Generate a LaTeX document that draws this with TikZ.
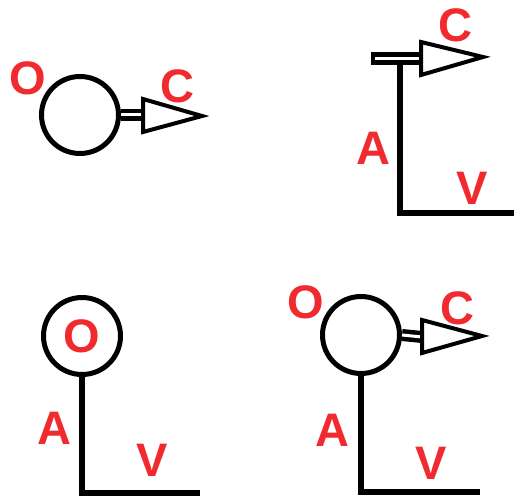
\documentclass[tikz,border=0pt]{standalone}
\usepackage{fontspec}
\setmainfont{Liberation Sans}
\usepackage{xcolor}
\usepackage{tikz}
\usetikzlibrary{positioning}
\definecolor{labelred}{HTML}{F02A2E}

\begin{document}
\begin{tikzpicture}[
        x=1pt, y=-1pt,
        ring/.style={circle, draw, line width=5, minimum size=77, inner sep=0},
        shaft/.style={draw, line width=4.5, double=white, double distance=3},
        pointer/.style={draw, line width=4, fill=white, line join=miter},
        stem/.style={draw, line width=5.5, line join=miter},
        lbl/.style={text=labelred, font=\fontsize{47}{47}\selectfont\bfseries, inner sep=0}
    ]
        \useasboundingbox (0,0) rectangle (514,500);

        % Nodes
        \node (ring1) [ring] at (80,115) {};
        \node (o1) [lbl] at (28,78) {O};
        \node (c1) [lbl] at (177,86) {C};
        \coordinate (base1) at (143,115);

        \coordinate (tail2) at (373,58.5);
        \coordinate (base2) at (421,58.5);
        \coordinate (top2) at (400,64);
        \coordinate (end2) at (516,213);
        \node (c2) [lbl] at (455,25) {C};
        \node (a2) [lbl] at (373,148) {A};
        \node (v2) [lbl] at (472,188) {V};

        \node (ring3) [ring] at (82,336) {};
        \node (o3) [lbl] at (ring3) {O};
        \coordinate (end3) at (200,493);
        \node (a3) [lbl] at (54,428) {A};
        \node (v3) [lbl] at (152,460) {V};

        \node (ring4) [ring] at (361,335) {};
        \node (o4) [lbl] at (306,302) {O};
        \node (c4) [lbl] at (457,308) {C};
        \coordinate (base4) at (422,337);
        \coordinate (end4) at (480,492);
        \node (a4) [lbl] at (332,430) {A};
        \node (v4) [lbl] at (431,463) {V};

        % Shafts and pointers
        \draw [shaft] (ring1.east) -- (base1);
        \draw [pointer] (base1) -- ++(0,-16) -- ++(59,17) -- ++(-59,16) -- cycle;

        \draw [shaft, line width=5, double distance=2.5] (tail2) -- (base2);
        \draw [line width=3.5] (tail2) ++(0,-6.25) -- ++(0,12.5);
        \draw [pointer] (base2) -- ++(0,-16.5) -- ++(62,15) -- ++(-62,18) -- cycle;

        \draw [shaft] (ring4.east) -- (base4);
        \draw [pointer] (base4) -- ++(0,-17) -- ++(60,16) -- ++(-60,17) -- cycle;

        % Stems
        \draw [stem] (top2) |- (end2);
        \draw [stem] (ring3.south) |- (end3);
        \draw [stem] (ring4.south) |- (end4);
    \end{tikzpicture}
\end{document}
